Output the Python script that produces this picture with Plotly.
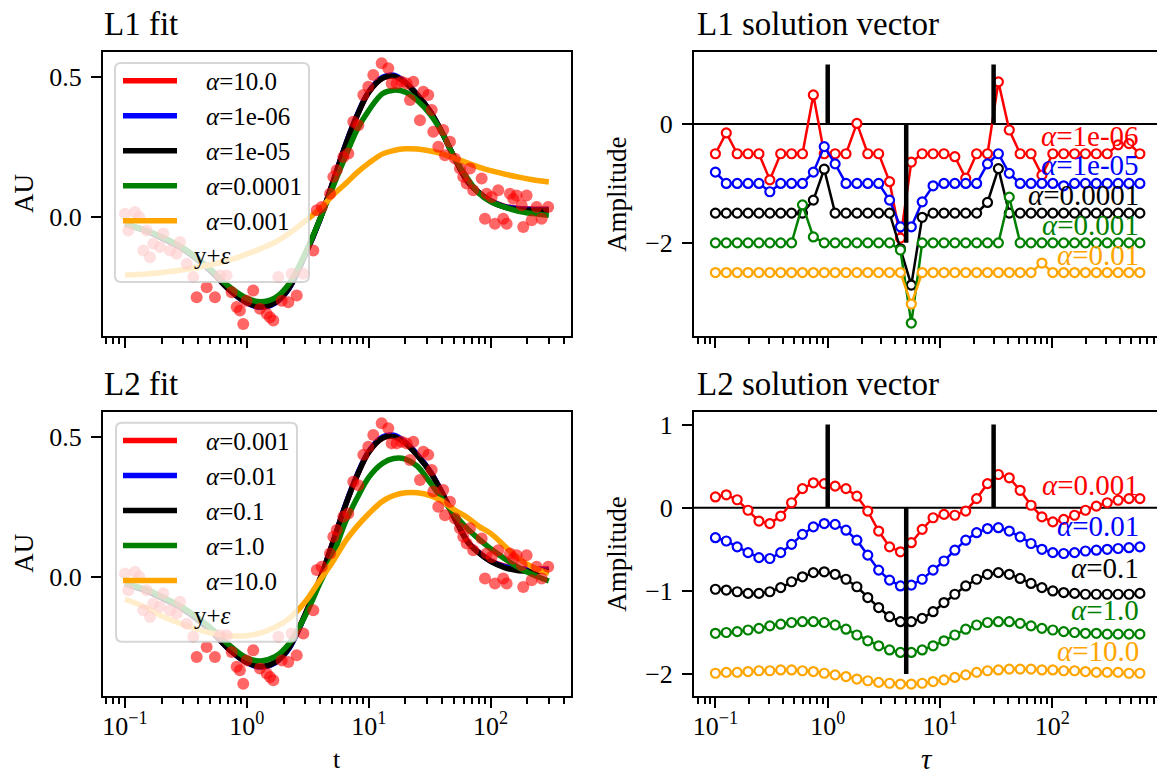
import numpy as np
import plotly.graph_objects as go

W, H = 1157, 776
FONT = "Liberation Serif"

# ---------------- data: noisy measurements ----------------
t_data = [0.100, 0.1064, 0.1208, 0.1309, 0.1412, 0.1507, 0.1603, 0.1706, 0.1937, 0.2061,
          0.2339, 0.2654, 0.2825, 0.3206, 0.3631, 0.3873, 0.4677, 0.5470, 0.6011, 0.6823,
          0.7499, 0.8241, 0.8770, 0.9333, 0.9954, 1.127, 1.280, 1.453, 1.548, 1.647,
          1.811, 1.929, 2.186, 2.329, 2.563, 2.904, 3.508, 3.740, 4.111, 4.809,
          5.118, 5.458, 6.183, 6.793, 7.467, 8.204, 9.018, 9.911, 10.89, 12.76,
          14.45, 15.41, 16.94, 18.62, 20.46, 21.78, 23.18, 26.30, 28.00, 30.77,
          32.81, 33.81, 37.16, 40.85, 42.17, 46.35, 50.94, 55.98, 59.57, 63.53,
          67.61, 71.94, 84.34, 89.78, 92.69, 101.9, 108.4, 115.4, 126.8, 135.2,
          143.9, 153.1, 163.3, 179.5, 185.0, 197.2, 216.8, 238.3, 261.8, 296.5]
y_data = [0.012, -0.048, 0.018, 0.000, -0.119, -0.048, -0.143, -0.095, -0.107, -0.059,
          -0.119, -0.131, -0.089, -0.167, -0.214, -0.286, -0.250, -0.286, -0.208, -0.208,
          -0.268, -0.321, -0.333, -0.381, -0.298, -0.262, -0.327, -0.345, -0.357, -0.369,
          -0.214, -0.298, -0.304, -0.202, -0.280, -0.202, -0.119, 0.024, 0.036, 0.083,
          0.143, 0.167, 0.214, 0.226, 0.339, 0.327, 0.435, 0.464, 0.506, 0.548,
          0.530, 0.476, 0.476, 0.482, 0.476, 0.417, 0.482, 0.345, 0.446, 0.435,
          0.381, 0.304, 0.250, 0.310, 0.220, 0.268, 0.208, 0.173, 0.143, 0.119,
          0.173, 0.095, 0.137, -0.006, 0.083, 0.071, -0.024, 0.095, -0.006, -0.024,
          0.083, 0.065, 0.077, 0.042, -0.036, 0.077, -0.012, 0.036, -0.006, 0.036]

# ---------------- fitted curves ----------------
t_fit = [0.1, 0.15, 0.2, 0.3, 0.5, 0.7, 1.0, 1.3, 1.7, 2.2, 3, 4, 5, 6.5, 8, 10, 13, 16, 20, 25,
         32, 40, 50, 65, 80, 100, 130, 170, 220, 300]

l1_fit_a10 = [-0.025, -0.05, -0.075, -0.115, -0.19, -0.255, -0.305, -0.32, -0.305, -0.255,
              -0.135, -0.005, 0.115, 0.26, 0.36, 0.445, 0.495, 0.502, 0.478, 0.435,
              0.375, 0.30, 0.215, 0.125, 0.088, 0.058, 0.038, 0.030, 0.028, 0.028]
l1_fit_a1e6 = [-0.025, -0.05, -0.075, -0.115, -0.19, -0.255, -0.306, -0.322, -0.307, -0.257,
               -0.136, -0.006, 0.115, 0.262, 0.362, 0.447, 0.498, 0.505, 0.48, 0.436,
               0.375, 0.30, 0.215, 0.125, 0.087, 0.057, 0.037, 0.029, 0.027, 0.027]
l1_fit_a1e5 = [-0.025, -0.05, -0.075, -0.115, -0.19, -0.255, -0.305, -0.32, -0.305, -0.255,
               -0.135, -0.005, 0.115, 0.26, 0.36, 0.445, 0.495, 0.502, 0.478, 0.435,
               0.375, 0.30, 0.215, 0.125, 0.087, 0.056, 0.035, 0.026, 0.024, 0.024]
l1_fit_a1e4 = [-0.025, -0.048, -0.07, -0.11, -0.185, -0.245, -0.29, -0.302, -0.288, -0.24,
               -0.13, -0.005, 0.10, 0.22, 0.31, 0.38, 0.44, 0.452, 0.445, 0.415,
               0.365, 0.30, 0.215, 0.135, 0.085, 0.055, 0.035, 0.02, 0.012, 0.006]
l1_fit_a1e3 = [-0.207, -0.203, -0.198, -0.188, -0.17, -0.155, -0.132, -0.112, -0.09, -0.06,
               -0.015, 0.03, 0.075, 0.12, 0.158, 0.192, 0.225, 0.237, 0.243, 0.242,
               0.235, 0.225, 0.21, 0.192, 0.178, 0.165, 0.153, 0.142, 0.133, 0.125]

l2_fit_a1e3 = [-0.025, -0.05, -0.075, -0.115, -0.19, -0.255, -0.305, -0.32, -0.305, -0.255,
               -0.135, -0.005, 0.115, 0.26, 0.36, 0.445, 0.495, 0.502, 0.478, 0.435,
               0.375, 0.30, 0.215, 0.125, 0.088, 0.058, 0.038, 0.030, 0.028, 0.028]
l2_fit_a1e2 = [-0.025, -0.05, -0.075, -0.115, -0.19, -0.255, -0.306, -0.322, -0.307, -0.258,
               -0.137, -0.007, 0.114, 0.262, 0.362, 0.448, 0.499, 0.505, 0.48, 0.436,
               0.375, 0.30, 0.214, 0.124, 0.086, 0.056, 0.036, 0.028, 0.026, 0.026]
l2_fit_a1e1 = [-0.025, -0.05, -0.075, -0.115, -0.19, -0.255, -0.305, -0.32, -0.305, -0.255,
               -0.135, -0.005, 0.115, 0.26, 0.36, 0.445, 0.495, 0.50, 0.476, 0.433,
               0.373, 0.298, 0.213, 0.123, 0.085, 0.055, 0.033, 0.022, 0.02, 0.02]
l2_fit_a1e0 = [-0.025, -0.045, -0.07, -0.11, -0.18, -0.24, -0.29, -0.30, -0.285, -0.24,
               -0.14, -0.02, 0.07, 0.20, 0.28, 0.355, 0.405, 0.422, 0.42, 0.395,
               0.335, 0.278, 0.225, 0.17, 0.135, 0.10, 0.065, 0.033, 0.008, -0.015]
l2_fit_a10 = [-0.08, -0.11, -0.14, -0.17, -0.20, -0.21, -0.21, -0.20, -0.18, -0.15,
              -0.09, -0.01, 0.05, 0.13, 0.18, 0.225, 0.27, 0.29, 0.30, 0.30,
              0.29, 0.27, 0.24, 0.21, 0.18, 0.155, 0.11, 0.065, 0.035, 0.012]

# ---------------- solution vectors (already offset for display) ----------------
tau = [0.1, 0.125, 0.1563, 0.1953, 0.2441, 0.3052, 0.3815, 0.4768, 0.596, 0.7451,
       0.9313, 1.164, 1.455, 1.819, 2.274, 2.842, 3.553, 4.441, 5.551, 6.939,
       8.674, 10.84, 13.55, 16.94, 21.18, 26.47, 33.09, 41.36, 51.70, 64.62,
       80.78, 101.0, 126.2, 157.8, 197.2, 246.5, 308.1, 385.2, 481.5, 601.8]

l1_sol_1e6 = [-0.5, -0.15, -0.5, -0.5, -0.5, -0.94, -0.5, -0.5, -0.5, 0.49,
              -0.5, -0.5, -0.5, 0.01, -0.5, -0.5, -0.97, -1.92, -0.64, -0.5,
              -0.5, -0.5, -0.55, -0.91, -0.5, -0.5, 0.71, -0.1, -0.5, -0.5,
              -0.86, -0.5, -0.5, -0.5, -0.5, -0.5, -0.5, -0.35, -0.33, -0.5]
l1_sol_1e5 = [-0.81, -1.0, -1.0, -1.0, -1.0, -1.14, -1.0, -1.0, -1.0, -0.81,
              -0.38, -0.67, -1.0, -1.0, -1.0, -1.0, -1.28, -1.73, -1.73, -1.31,
              -1.04, -1.0, -1.0, -1.0, -1.0, -0.67, -0.5, -0.83, -1.0, -1.0,
              -1.0, -1.0, -1.04, -1.0, -1.0, -1.0, -1.0, -1.0, -1.0, -1.0]
l1_sol_1e4 = [-1.5, -1.5, -1.5, -1.5, -1.5, -1.5, -1.5, -1.5, -1.5, -1.28,
              -0.76, -1.5, -1.5, -1.5, -1.5, -1.5, -1.5, -2.1, -2.71, -1.57,
              -1.5, -1.5, -1.5, -1.5, -1.5, -1.32, -0.75, -1.5, -1.5, -1.5,
              -1.5, -1.5, -1.5, -1.5, -1.5, -1.5, -1.5, -1.5, -1.5, -1.5]
l1_sol_1e3 = [-2.0, -2.0, -2.0, -2.0, -2.0, -2.0, -2.0, -2.0, -1.36, -1.9,
              -2.0, -2.0, -2.0, -2.0, -2.0, -2.0, -2.0, -2.12, -3.35, -2.0,
              -2.0, -2.0, -2.0, -2.0, -2.0, -2.0, -2.0, -1.23, -2.0, -2.0,
              -2.0, -2.0, -2.0, -2.0, -2.0, -2.0, -2.0, -2.0, -2.0, -2.0]
l1_sol_1e2 = [-2.5, -2.5, -2.5, -2.5, -2.5, -2.5, -2.5, -2.5, -2.5, -2.5,
              -2.5, -2.5, -2.5, -2.5, -2.5, -2.5, -2.5, -2.5, -3.03, -2.5,
              -2.5, -2.5, -2.5, -2.5, -2.5, -2.5, -2.5, -2.5, -2.5, -2.5,
              -2.34, -2.5, -2.5, -2.5, -2.5, -2.5, -2.5, -2.5, -2.5, -2.5]

l2_sol_1e3 = [0.13, 0.156, 0.096, -0.03, -0.16, -0.19, -0.10, 0.06, 0.23, 0.30,
              0.29, 0.26, 0.23, 0.14, -0.04, -0.28, -0.47, -0.53, -0.42, -0.26,
              -0.12, -0.08, -0.09, -0.04, 0.11, 0.29, 0.40, 0.36, 0.21, 0.03,
              -0.11, -0.17, -0.14, -0.09, -0.03, 0.02, 0.06, 0.09, 0.11, 0.11]
l2_sol_1e2 = [-0.36, -0.40, -0.47, -0.54, -0.60, -0.61, -0.54, -0.44, -0.32, -0.23,
              -0.19, -0.20, -0.27, -0.39, -0.57, -0.75, -0.87, -0.94, -0.93, -0.86,
              -0.75, -0.64, -0.51, -0.39, -0.30, -0.25, -0.24, -0.28, -0.35, -0.43,
              -0.50, -0.54, -0.55, -0.54, -0.52, -0.51, -0.50, -0.49, -0.48, -0.47]
l2_sol_1e1 = [-0.98, -0.99, -1.01, -1.03, -1.03, -1.01, -0.96, -0.89, -0.83, -0.78,
              -0.77, -0.80, -0.86, -0.95, -1.08, -1.20, -1.31, -1.37, -1.37, -1.33,
              -1.25, -1.14, -1.04, -0.94, -0.86, -0.80, -0.78, -0.80, -0.85, -0.91,
              -0.96, -1.00, -1.02, -1.03, -1.04, -1.04, -1.04, -1.04, -1.04, -1.03]
l2_sol_1e0 = [-1.51, -1.50, -1.49, -1.47, -1.45, -1.42, -1.40, -1.38, -1.37, -1.37,
              -1.38, -1.41, -1.46, -1.53, -1.60, -1.66, -1.71, -1.74, -1.74, -1.71,
              -1.66, -1.60, -1.53, -1.46, -1.41, -1.38, -1.37, -1.37, -1.39, -1.42,
              -1.45, -1.47, -1.49, -1.50, -1.51, -1.51, -1.52, -1.52, -1.52, -1.52]
l2_sol_10 = [-1.99, -1.98, -1.98, -1.97, -1.96, -1.96, -1.95, -1.95, -1.96, -1.97,
             -1.99, -2.01, -2.03, -2.06, -2.08, -2.10, -2.11, -2.12, -2.12, -2.11,
             -2.09, -2.07, -2.04, -2.01, -1.98, -1.96, -1.95, -1.94, -1.94, -1.94,
             -1.95, -1.95, -1.96, -1.96, -1.97, -1.98, -1.98, -1.98, -1.99, -1.99]

true_tau = [1.0, 5.0, 30.0]
true_amp = [1.0, -2.0, 1.0]

colors = ["#ff0000", "#0000ff", "#000000", "#008000", "#ffa500"]
l1_fit_labels = ["10.0", "1e-06", "1e-05", "0.0001", "0.001"]
l2_fit_labels = ["0.001", "0.01", "0.1", "1.0", "10.0"]
l1_sol_labels = ["1e-06", "1e-05", "0.0001", "0.001", "0.01"]
l1_sol_offsets = [-0.5, -1.0, -1.5, -2.0, -2.5]
l2_sol_labels = ["0.001", "0.01", "0.1", "1.0", "10.0"]
l2_sol_offsets = [0.0, -0.5, -1.0, -1.5, -2.0]

l1_fits = [l1_fit_a10, l1_fit_a1e6, l1_fit_a1e5, l1_fit_a1e4, l1_fit_a1e3]
l2_fits = [l2_fit_a1e3, l2_fit_a1e2, l2_fit_a1e1, l2_fit_a1e0, l2_fit_a10]
l1_sols = [l1_sol_1e6, l1_sol_1e5, l1_sol_1e4, l1_sol_1e3, l1_sol_1e2]
l2_sols = [l2_sol_1e3, l2_sol_1e2, l2_sol_1e1, l2_sol_1e0, l2_sol_10]

# ---------------- layout helpers ----------------
def px(x):
    return x / W

def py(y):
    return 1 - y / H

fig = go.Figure()

# left panels: fits then data points
for fits, xa, ya in [(l1_fits, "x", "y"), (l2_fits, "x3", "y3")]:
    for vals, c in zip(fits, colors):
        fig.add_trace(go.Scatter(x=t_fit, y=vals, mode="lines", line=dict(color=c, width=5.5, shape="spline"),
                                 xaxis=xa, yaxis=ya, showlegend=False, hoverinfo="skip"))
    fig.add_trace(go.Scatter(x=t_data, y=y_data, mode="markers",
                             marker=dict(color="#ff0000", size=12, opacity=0.6, line=dict(width=0)),
                             xaxis=xa, yaxis=ya, showlegend=False, hoverinfo="skip"))

# right panels: solution vectors and true spikes
for sols, xa, ya in [(l1_sols, "x2", "y2"), (l2_sols, "x4", "y4")]:
    for vals, c in zip(sols, colors):
        fig.add_trace(go.Scatter(x=tau, y=vals, mode="lines+markers",
                                 line=dict(color=c, width=2.5),
                                 marker=dict(symbol="circle", size=9, color="white", line=dict(color=c, width=2.2)),
                                 xaxis=xa, yaxis=ya, showlegend=False, hoverinfo="skip"))
    vx, vy = [], []
    for tt, aa in zip(true_tau, true_amp):
        vx += [tt, tt, None]
        vy += [0, aa, None]
    fig.add_trace(go.Scatter(x=vx, y=vy, mode="lines", line=dict(color="black", width=4.5),
                             xaxis=xa, yaxis=ya, showlegend=False, hoverinfo="skip"))

# ---------------- axes ----------------
TICKFONT = dict(family=FONT, size=26, color="black")
major = [0.1, 1, 10, 100]
major_txt = ["10<sup>\u22121</sup>", "10<sup>0</sup>", "10<sup>1</sup>", "10<sup>2</sup>"]
minor_vals = []
for dec in [0.01, 0.1, 1, 10, 100]:
    for m in range(2, 10):
        minor_vals.append(m * dec)

def xaxis(domain, rng, labels):
    return dict(type="log", domain=domain, range=rng, showline=True, linewidth=2, linecolor="black",
                mirror=True, ticks="outside", ticklen=10, tickwidth=2, tickcolor="black",
                tickmode="array", tickvals=major, ticktext=major_txt, showticklabels=labels,
                tickfont=TICKFONT, showgrid=False, zeroline=False, ticklabelstandoff=-4,
                minor=dict(ticks="outside", ticklen=6, tickwidth=1.5, tickcolor="black",
                           tickmode="array", tickvals=minor_vals, showgrid=False))

def yaxis(domain, rng, tv, tt, anchor, mirror=True):
    return dict(domain=domain, range=rng, showline=True, linewidth=2, linecolor="black", mirror=mirror,
                ticks="outside", ticklen=10, tickwidth=2, tickcolor="black", tickmode="array",
                tickvals=tv, ticktext=tt, tickfont=TICKFONT, showgrid=False, zeroline=False,
                anchor=anchor, ticklabelstandoff=4)

xl = [px(103), px(571)]
xr = [px(694), 1.0]
yt = [py(336), py(51.7)]
yb = [py(695.7), py(411.7)]
rng_l = [-1.1805, 2.659]
rng_r = [-1.1906, 2.932]

fig.update_layout(
    width=W, height=H, autosize=False,
    margin=dict(l=0, r=0, t=0, b=0),
    paper_bgcolor="white", plot_bgcolor="white",
    showlegend=False,
    xaxis=dict(**xaxis(xl, rng_l, False), anchor="y"),
    yaxis=yaxis(yt, [-0.424, 0.589], [0, 0.5], ["0.0", "0.5"], "x"),
    xaxis2=dict(**xaxis(xr, rng_r, False), anchor="y2"),
    yaxis2=yaxis(yt, [-3.5675, 1.2175], [-2, 0], ["\u22122", "0"], "x2", mirror=False),
    xaxis3=dict(**xaxis(xl, rng_l, True), anchor="y3"),
    yaxis3=yaxis(yb, [-0.424, 0.589], [0, 0.5], ["0.0", "0.5"], "x3"),
    xaxis4=dict(**xaxis(xr, rng_r, True), anchor="y4"),
    yaxis4=yaxis(yb, [-2.26, 1.155], [-2, -1, 0, 1], ["\u22122", "\u22121", "0", "1"], "x4", mirror=False),
)

shapes = []
annotations = []

# zero lines on right panels
for xa, ya in [("x2", "y2"), ("x4", "y4")]:
    shapes.append(dict(type="line", xref=f"{xa} domain", yref=ya, x0=0, x1=1, y0=0, y1=0,
                       line=dict(color="black", width=2), layer="below"))

def text(x, y, s, size, xanchor="left", angle=0, color="black", yanchor="middle"):
    annotations.append(dict(x=px(x), y=py(y), xref="paper", yref="paper", text=s, showarrow=False,
                            xanchor=xanchor, yanchor=yanchor, textangle=angle, borderpad=0,
                            font=dict(family=FONT, size=size, color=color)))

# titles
text(103, 24, "L1 fit", 33)
text(696, 24, "L1 solution vector", 33)
text(103, 384, "L2 fit", 33)
text(696, 384, "L2 solution vector", 33)
# axis labels
text(24, 194, "AU", 27, xanchor="center", angle=-90)
text(24, 553.7, "AU", 27, xanchor="center", angle=-90)
text(617, 194, "Amplitude", 27, xanchor="center", angle=-90)
text(617, 553.7, "Amplitude", 27, xanchor="center", angle=-90)
text(337, 775, "t", 26, xanchor="center", yanchor="bottom")
text(927, 776, "<i>\u03c4</i>", 29, xanchor="center", yanchor="bottom")

# legends (drawn manually, semi-transparent like matplotlib)
def rounded_rect(x0, y0, x1, y1, r):
    pts = [f"M {px(x0 + r)},{py(y0)}", f"L {px(x1 - r)},{py(y0)}",
           f"Q {px(x1)},{py(y0)} {px(x1)},{py(y0 + r)}", f"L {px(x1)},{py(y1 - r)}",
           f"Q {px(x1)},{py(y1)} {px(x1 - r)},{py(y1)}", f"L {px(x0 + r)},{py(y1)}",
           f"Q {px(x0)},{py(y1)} {px(x0)},{py(y1 - r)}", f"L {px(x0)},{py(y0 + r)}",
           f"Q {px(x0)},{py(y0)} {px(x0 + r)},{py(y0)}", "Z"]
    return " ".join(pts)

def legend(box, labels):
    x0, y0, x1, y1 = box
    shapes.append(dict(type="path", xref="paper", yref="paper", path=rounded_rect(x0, y0, x1, y1, 6),
                       fillcolor="rgba(255,255,255,0.8)", line=dict(color="rgba(204,204,204,0.8)", width=2),
                       layer="above"))
    for i, (lab, c) in enumerate(zip(labels, colors)):
        yy = y0 + 17.7 + 35 * i
        shapes.append(dict(type="line", xref="paper", yref="paper", x0=px(123), x1=px(177),
                           y0=py(yy), y1=py(yy), line=dict(color=c, width=5.5), layer="above"))
        text(205, yy + 1, "<i>\u03b1</i>=" + lab, 25)
    text(193, y0 + 193, "y+<i>\u03b5</i>", 25)

legend((115, 63, 309, 282), l1_fit_labels)
legend((116, 422.7, 297, 641.7), l2_fit_labels)

# labels next to solution vectors
for labs, offs, xa, ya, ysh in [(l1_sol_labels, l1_sol_offsets, "x2", "y2", 1),
                                (l2_sol_labels, l2_sol_offsets, "x4", "y4", 6)]:
    for lab, off, c in zip(labs, offs, colors):
        annotations.append(dict(x=np.log10(tau[-1]), y=off, xref=xa, yref=ya, text="<i>\u03b1</i>=" + lab,
                                showarrow=False, xanchor="right", yanchor="bottom", yshift=ysh, borderpad=0,
                                font=dict(family=FONT, size=29, color=c)))

fig.update_layout(shapes=shapes, annotations=annotations)
fig.write_html("out.html")
